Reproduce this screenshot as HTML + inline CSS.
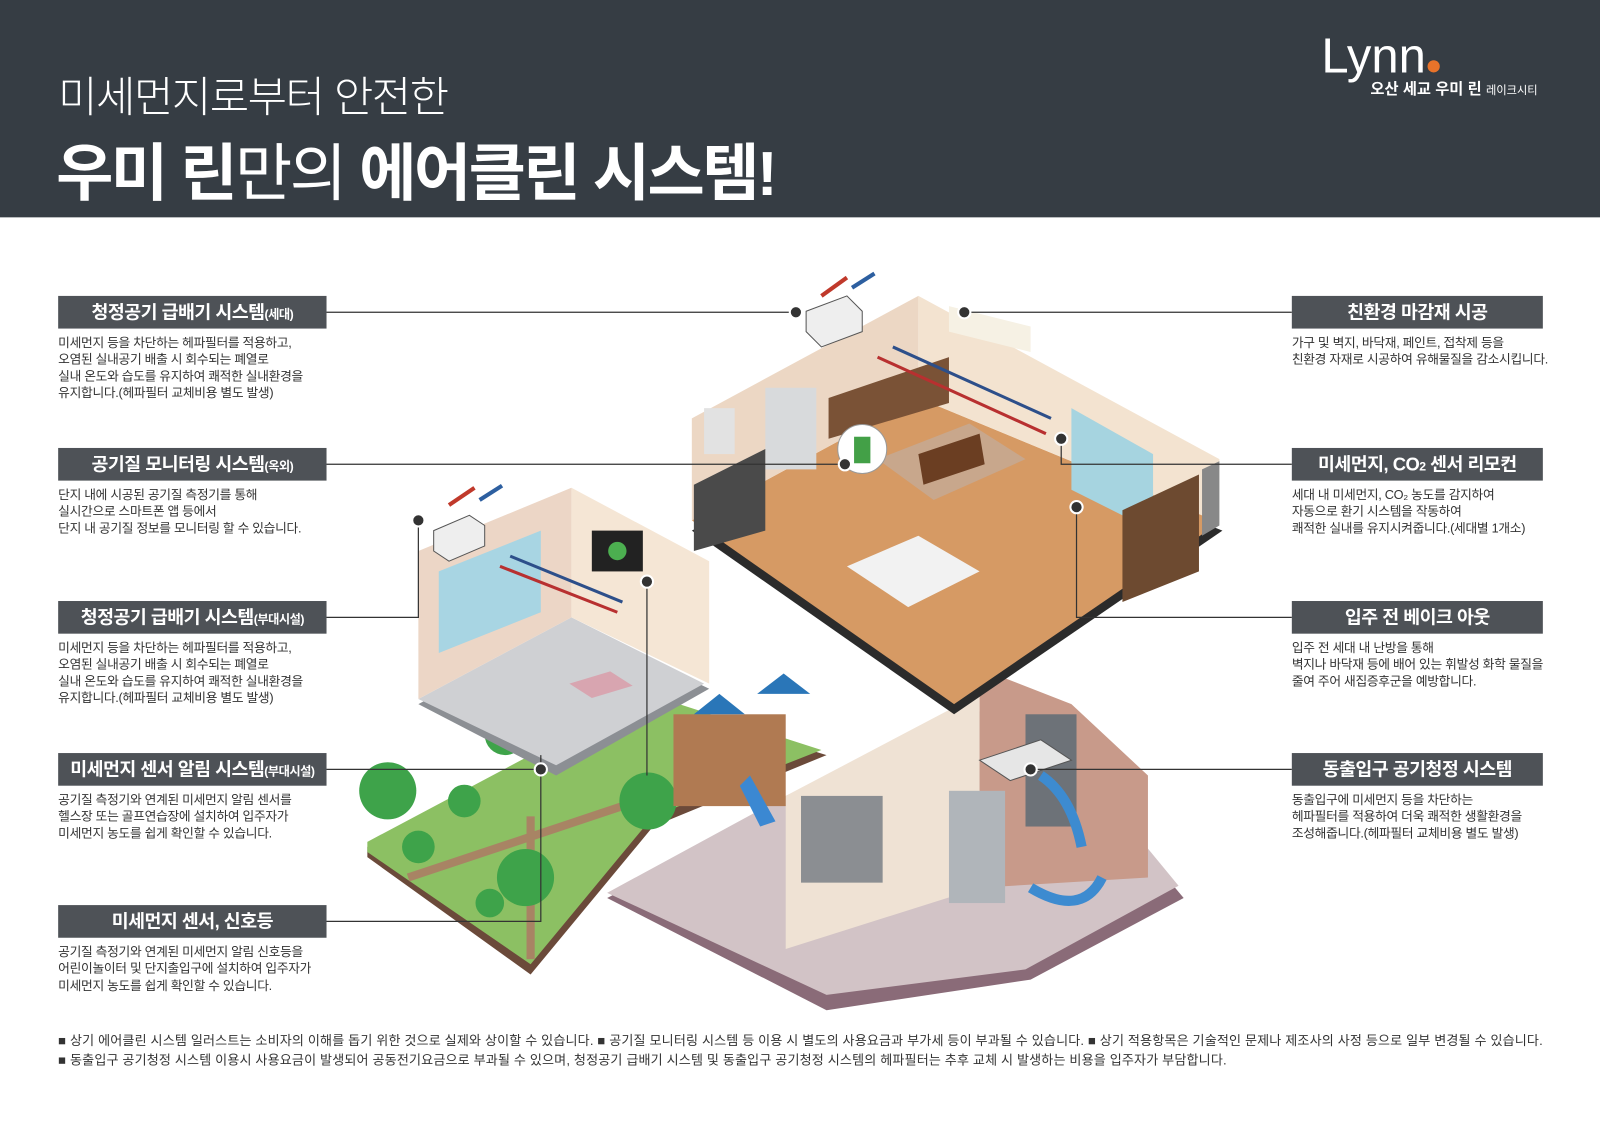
<!DOCTYPE html>
<html><head><meta charset="utf-8"><style>
*{margin:0;padding:0;box-sizing:border-box}
body{width:1600px;height:1123px;background:#fff;position:relative;overflow:hidden;font-family:"Liberation Sans","Noto Sans CJK KR",sans-serif;color:#333}
#w{position:absolute;left:0;top:0;width:1568px;height:1100px;transform:scale(1.0204);transform-origin:0 0}
.hd{position:absolute;left:0;top:0;width:1600px;height:213px;background:#363d44}
.t1{position:absolute;left:57px;top:62px;font-size:42px;color:#fff;font-weight:300;letter-spacing:-1.5px}
.t2{position:absolute;left:55px;top:120px;font-size:61px;color:#fff;font-weight:700;letter-spacing:-2.5px}
.t2 span{font-weight:400}
.logo{position:absolute;left:1295px;top:28px;color:#fff;font-size:48px;font-weight:400}
.logo i{display:inline-block;width:12px;height:12px;border-radius:50%;background:#e8732a;margin-left:2px}
.sub{position:absolute;left:1343px;top:76px;color:#fff;font-size:15px;font-weight:700}
.sub small{font-size:11px;font-weight:400}
.lb{position:absolute;height:32px;background:#4e5257;color:#fff;font-size:18px;font-weight:700;text-align:center;line-height:32px;letter-spacing:-0.5px}
.lb small{font-size:12px}
.L{left:57px;width:263px}.R{left:1266px;width:246px}
.tx{position:absolute;font-size:12.5px;line-height:16.3px;color:#333;letter-spacing:-0.3px}
.ft{position:absolute;left:57px;top:1010px;width:1458px;font-size:12.8px;line-height:19px;color:#333;letter-spacing:0.15px}
svg{position:absolute;left:0;top:0}
</style></head><body><div id="w">
<div class="hd"></div>
<div class="t1">미세먼지로부터 안전한</div>
<div class="t2">우미 린<span>만의</span> 에어클린 시스템!</div>
<div class="logo">Lynn<i></i></div>
<div class="sub">오산 세교 우미 린 <small>레이크시티</small></div>

<svg width="1600" height="1123">
<polygon points="595,880 770,790 1000,690 1160,880 1010,960 810,990" fill="#8a6b78"/>
<polygon points="595,875 770,780 1000,680 1155,868 1005,950 810,975" fill="#d2c3c6"/>
<polygon points="770,780 960,680 960,870 770,930" fill="#efe2d4"/>
<polygon points="960,655 1050,690 1125,760 1125,860 960,870" fill="#c89a8a"/>
<rect x="785" y="780" width="80" height="85" fill="#8b8e92"/>
<rect x="930" y="775" width="55" height="110" fill="#b0b5ba"/>
<rect x="1005" y="700" width="50" height="110" fill="#6d7278"/>
<polygon points="960,745 1020,725 1050,745 990,765" fill="#e6e6e6" stroke="#555"/>
<path d="M1010,870 Q1060,900 1080,860" stroke="#3d8bd0" stroke-width="10" fill="none"/>
<path d="M1060,830 Q1050,780 1020,760" stroke="#3d8bd0" stroke-width="10" fill="none"/>
<polygon points="360,830 520,745 650,690 810,740 640,810 520,955 360,840" fill="#6b4a3a"/>
<polygon points="360,825 520,740 650,685 805,735 640,800 520,945 360,835" fill="#8cc063"/>
<path d="M400,860 L640,780 M520,800 L520,940" stroke="#a88464" stroke-width="8"/>
<g fill="#3ea34a"><circle cx="380" cy="775" r="28"/><circle cx="495" cy="720" r="20"/><circle cx="635" cy="785" r="28"/><circle cx="515" cy="860" r="28"/><circle cx="455" cy="785" r="16"/><circle cx="410" cy="830" r="16"/><circle cx="480" cy="885" r="14"/></g>
<rect x="660" y="700" width="110" height="90" fill="#b07a52"/>
<polygon points="680,700 705,680 730,700" fill="#2a76b8"/><polygon points="742,680 768,660 794,680" fill="#2a76b8"/>
<polygon points="735,760 760,805 745,810 725,770" fill="#3b88d2"/>
<polygon points="410,690 560,610 695,675 545,760" fill="#8c8f94"/>
<polygon points="410,685 560,605 690,670 545,750" fill="#cfd0d3"/>
<polygon points="410,540 560,478 560,605 410,685" fill="#ecd6c6"/>
<polygon points="560,478 695,550 695,670 560,605" fill="#f5e6d5"/>
<polygon points="430,560 530,520 530,600 430,640" fill="#a8d5e3"/>
<rect x="580" y="520" width="50" height="40" fill="#222"/><circle cx="605" cy="540" r="9" fill="#4caf50"/>
<polygon points="558,670 598,658 620,672 580,684" fill="#d8a5b0"/>
<polygon points="678,520 900,400 1198,520 935,700" fill="#2b2b2b"/>
<polygon points="678,510 900,390 1195,512 935,690" fill="#d69a64"/>
<polygon points="678,410 900,290 900,390 678,510" fill="#ecd7c4"/>
<polygon points="900,290 1195,450 1195,512 900,390" fill="#f3e3d0"/>
<polygon points="1050,400 1130,445 1130,520 1050,480" fill="#a6d4e0"/>
<polygon points="812,390 930,350 930,395 812,430" fill="#7a5236"/>
<polygon points="860,450 950,415 1005,450 915,490" fill="#c8a78c"/>
<polygon points="900,445 960,425 965,455 905,475" fill="#6b3e22"/>
<rect x="750" y="380" width="50" height="80" fill="#d8dadc"/>
<rect x="690" y="400" width="30" height="45" fill="#e2e2e2"/>
<polygon points="680,475 750,440 750,520 680,540" fill="#4a4a4a"/>
<polygon points="1100,500 1175,465 1175,560 1100,590" fill="#6d4a30"/>
<polygon points="1178,460 1195,452 1195,515 1178,525" fill="#888"/>
<polygon points="830,555 900,525 960,560 890,595" fill="#f2f2f2"/>
<polygon points="930,300 1010,320 1010,345 930,325" fill="#f6f1e4"/>
<line x1="860" y1="350" x2="1025" y2="425" stroke="#b83030" stroke-width="3"/>
<line x1="875" y1="340" x2="1030" y2="410" stroke="#2d4f8a" stroke-width="3"/>
<line x1="490" y1="555" x2="605" y2="600" stroke="#b83030" stroke-width="3"/>
<line x1="500" y1="545" x2="610" y2="590" stroke="#2d4f8a" stroke-width="3"/>
<polygon points="790,305 830,290 845,305 845,325 805,340 790,325" fill="#eee" stroke="#555"/>
<polygon points="425,520 460,505 475,515 475,535 440,550 425,540" fill="#eee" stroke="#555"/>
<line x1="805" y1="290" x2="830" y2="272" stroke="#c0392b" stroke-width="4"/><line x1="835" y1="282" x2="857" y2="268" stroke="#2d5fa0" stroke-width="4"/>
<line x1="440" y1="495" x2="465" y2="478" stroke="#c0392b" stroke-width="4"/><line x1="470" y1="490" x2="492" y2="476" stroke="#2d5fa0" stroke-width="4"/>
<circle cx="845" cy="440" r="24" fill="#fff" stroke="#999"/><rect x="837" y="428" width="16" height="26" fill="#43a047"/>
<g stroke="#333" stroke-width="1.2" fill="none">
<path d="M320,306 H780"/><path d="M320,455 H828"/><path d="M320,605 H410 V510"/>
<path d="M320,754 H530"/><path d="M320,903 H530 V740"/>
<path d="M1266,306 H945"/><path d="M1266,455 H1040 V430"/><path d="M1266,605 H1055 V497"/>
<path d="M1266,754 H1010"/><path d="M634,570 V760"/>
</g>
<g fill="#333" stroke="#fff" stroke-width="2"><circle cx="780" cy="306" r="6"/><circle cx="828" cy="455" r="6"/><circle cx="410" cy="510" r="6"/><circle cx="530" cy="754" r="6"/><circle cx="945" cy="306" r="6"/><circle cx="1040" cy="430" r="6"/><circle cx="1055" cy="497" r="6"/><circle cx="1010" cy="754" r="6"/><circle cx="634" cy="570" r="6"/></g>
</svg>

<div class="lb L" style="top:290px">청정공기 급배기 시스템<small>(세대)</small></div>
<div class="tx" style="left:57px;top:328px">미세먼지 등을 차단하는 헤파필터를 적용하고,<br>오염된 실내공기 배출 시 회수되는 폐열로<br>실내 온도와 습도를 유지하여 쾌적한 실내환경을<br>유지합니다.(헤파필터 교체비용 별도 발생)</div>
<div class="lb L" style="top:439px">공기질 모니터링 시스템<small>(옥외)</small></div>
<div class="tx" style="left:57px;top:477px">단지 내에 시공된 공기질 측정기를 통해<br>실시간으로 스마트폰 앱 등에서<br>단지 내 공기질 정보를 모니터링 할 수 있습니다.</div>
<div class="lb L" style="top:589px">청정공기 급배기 시스템<small>(부대시설)</small></div>
<div class="tx" style="left:57px;top:627px">미세먼지 등을 차단하는 헤파필터를 적용하고,<br>오염된 실내공기 배출 시 회수되는 폐열로<br>실내 온도와 습도를 유지하여 쾌적한 실내환경을<br>유지합니다.(헤파필터 교체비용 별도 발생)</div>
<div class="lb L" style="top:738px">미세먼지 센서 알림 시스템<small>(부대시설)</small></div>
<div class="tx" style="left:57px;top:776px">공기질 측정기와 연계된 미세먼지 알림 센서를<br>헬스장 또는 골프연습장에 설치하여 입주자가<br>미세먼지 농도를 쉽게 확인할 수 있습니다.</div>
<div class="lb L" style="top:887px">미세먼지 센서, 신호등</div>
<div class="tx" style="left:57px;top:925px">공기질 측정기와 연계된 미세먼지 알림 신호등을<br>어린이놀이터 및 단지출입구에 설치하여 입주자가<br>미세먼지 농도를 쉽게 확인할 수 있습니다.</div>

<div class="lb R" style="top:290px">친환경 마감재 시공</div>
<div class="tx" style="left:1266px;top:328px">가구 및 벽지, 바닥재, 페인트, 접착제 등을<br>친환경 자재로 시공하여 유해물질을 감소시킵니다.</div>
<div class="lb R" style="top:439px">미세먼지, CO<small>2</small> 센서 리모컨</div>
<div class="tx" style="left:1266px;top:477px">세대 내 미세먼지, CO₂ 농도를 감지하여<br>자동으로 환기 시스템을 작동하여<br>쾌적한 실내를 유지시켜줍니다.(세대별 1개소)</div>
<div class="lb R" style="top:589px">입주 전 베이크 아웃</div>
<div class="tx" style="left:1266px;top:627px">입주 전 세대 내 난방을 통해<br>벽지나 바닥재 등에 배어 있는 휘발성 화학 물질을<br>줄여 주어 새집증후군을 예방합니다.</div>
<div class="lb R" style="top:738px">동출입구 공기청정 시스템</div>
<div class="tx" style="left:1266px;top:776px">동출입구에 미세먼지 등을 차단하는<br>헤파필터를 적용하여 더욱 쾌적한 생활환경을<br>조성해줍니다.(헤파필터 교체비용 별도 발생)</div>

<div class="ft">■ 상기 에어클린 시스템 일러스트는 소비자의 이해를 돕기 위한 것으로 실제와 상이할 수 있습니다. ■ 공기질 모니터링 시스템 등 이용 시 별도의 사용요금과 부가세 등이 부과될 수 있습니다. ■ 상기 적용항목은 기술적인 문제나 제조사의 사정 등으로 일부 변경될 수 있습니다. ■ 동출입구 공기청정 시스템 이용시 사용요금이 발생되어 공동전기요금으로 부과될 수 있으며, 청정공기 급배기 시스템 및 동출입구 공기청정 시스템의 헤파필터는 추후 교체 시 발생하는 비용을 입주자가 부담합니다.</div>
</div></body></html>
